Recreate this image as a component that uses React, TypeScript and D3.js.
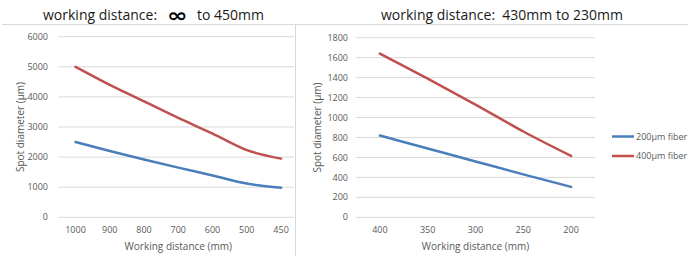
import React from "react";
import * as d3 from "d3";

const leftCats = ["1000", "900", "800", "700", "600", "500", "450"];
const leftBlue = [2500, 2200, 1920, 1650, 1390, 1120, 980];
const leftRed = [5000, 4400, 3850, 3300, 2780, 2230, 1950];
const leftTicks = [0, 1000, 2000, 3000, 4000, 5000, 6000];

const rightCats = ["400", "350", "300", "250", "200"];
const rightBlue = [820, 690, 560, 430, 305];
const rightRed = [1640, 1390, 1130, 860, 615];
const rightTicks = [0, 200, 400, 600, 800, 1000, 1200, 1400, 1600, 1800];

const seriesNames = ["200µm fiber", "400µm fiber"];
const colors = ["#4a7ebb", "#c0504d"];

const FONT = "'Open Sans', 'Noto Sans', sans-serif";
const GRID = "#d9d9d9";
const TICK = "#595959";

type PanelProps = {
  cats: string[];
  blue: number[];
  red: number[];
  ticks: number[];
  x0: number;
  x1: number;
  gridEnd: number;
  yTop: number;
  yBot: number;
  tickX: number;
  ylabelX: number;
  ylabel: string;
};

function Panel(p: PanelProps) {
  const x = d3.scaleBand<string>().domain(p.cats).range([p.x0, p.x1]);
  const y = d3
    .scaleLinear()
    .domain([0, p.ticks[p.ticks.length - 1]])
    .range([p.yBot, p.yTop]);
  const line = d3
    .line<number>()
    .x((_, i) => (x(p.cats[i]) as number) + x.bandwidth() / 2)
    .y((d) => y(d))
    .curve(d3.curveMonotoneX);
  return (
    <g>
      {p.ticks.map((t) => (
        <g key={t}>
          <line x1={p.x0} x2={p.gridEnd} y1={y(t)} y2={y(t)} stroke={GRID} strokeWidth={1} />
          <text x={p.tickX} y={y(t)} dy="0.35em" textAnchor="end" fontSize={9} fill={TICK} fontFamily={FONT}>
            {t}
          </text>
        </g>
      ))}
      {p.cats.map((c) => (
        <text
          key={c}
          x={(x(c) as number) + x.bandwidth() / 2}
          y={230}
          dy="0.35em"
          textAnchor="middle"
          fontSize={9}
          fill={TICK}
          fontFamily={FONT}
        >
          {c}
        </text>
      ))}
      <text x={(p.x0 + p.x1) / 2} y={246} dy="0.35em" textAnchor="middle" fontSize={10} fill={TICK} fontFamily={FONT}>
        Working distance (mm)
      </text>
      <text
        transform={`translate(${p.ylabelX},${(p.yTop + p.yBot) / 2}) rotate(-90)`}
        dy="0.35em"
        textAnchor="middle"
        fontSize={10}
        fill={TICK}
        fontFamily={FONT}
      >
        {p.ylabel}
      </text>
      <path d={line(p.blue) || ""} fill="none" stroke={colors[0]} strokeWidth={2.5} strokeLinecap="round" />
      <path d={line(p.red) || ""} fill="none" stroke={colors[1]} strokeWidth={2.5} strokeLinecap="round" />
    </g>
  );
}

export default function App() {
  return (
    <svg
      width={688}
      height={256}
      style={{ position: "absolute", left: 0, top: 0, background: "#fff" }}
      xmlns="http://www.w3.org/2000/svg"
    >
      <rect x={0} y={0} width={688} height={256} fill="#fff" />
      <line x1={2} x2={688} y1={24.5} y2={24.5} stroke={GRID} strokeWidth={1} />
      <line x1={295.5} x2={295.5} y1={24.5} y2={256} stroke={GRID} strokeWidth={1} />
      <text x={43} y={19.5} fontSize={14} fill="#1a1a1a" fontFamily={FONT}>
        working distance:
      </text>
      <text
        transform="translate(167,22) scale(1.3,1)"
        fontSize={19}
        fontWeight="bold"
        fill="#000"
        fontFamily="'DejaVu Sans', sans-serif"
      >
        ∞
      </text>
      <text x={197} y={19.5} fontSize={14} fill="#1a1a1a" fontFamily={FONT}>
        to 450mm
      </text>
      <text x={381} y={19.5} fontSize={14} fill="#1a1a1a" fontFamily={FONT} xmlSpace="preserve">
        {"working distance:  430mm to 230mm"}
      </text>
      <Panel
        cats={leftCats}
        blue={leftBlue}
        red={leftRed}
        ticks={leftTicks}
        x0={58.4}
        x1={298.2}
        gridEnd={294}
        yTop={36.7}
        yBot={217.3}
        tickX={48}
        ylabelX={20}
        ylabel="Spot diameter  (µm)"
      />
      <Panel
        cats={rightCats}
        blue={rightBlue}
        red={rightRed}
        ticks={rightTicks}
        x0={356}
        x1={595}
        gridEnd={595}
        yTop={37.7}
        yBot={217.3}
        tickX={348}
        ylabelX={317}
        ylabel="Spot diameter (µm)"
      />
      {seriesNames.map((s, i) => (
        <g key={s}>
          <line x1={612} x2={634} y1={136.5 + i * 19.5} y2={136.5 + i * 19.5} stroke={colors[i]} strokeWidth={2.5} />
          <text x={636} y={136.5 + i * 19.5} dy="0.35em" fontSize={9} fill={TICK} fontFamily={FONT}>
            {s}
          </text>
        </g>
      ))}
    </svg>
  );
}
